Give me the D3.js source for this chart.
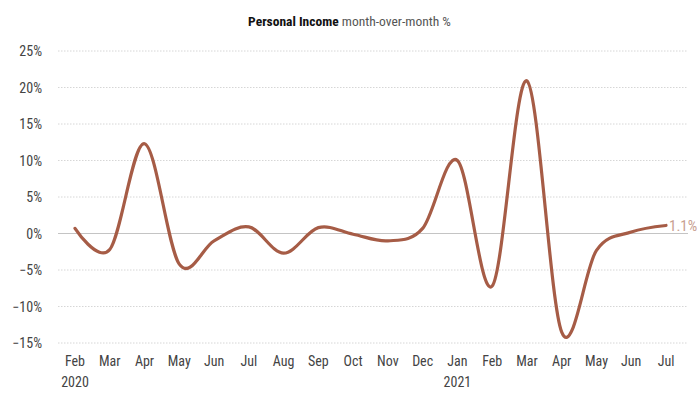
<!DOCTYPE html>
<html>
<head>
<meta charset="utf-8">
<script src="https://cdn.jsdelivr.net/npm/d3@7"></script>
<style>
  body { margin: 0; background: #fff; }
  svg text { font-family: "Roboto Condensed", "Liberation Sans Narrow", "DejaVu Sans Condensed", Roboto, sans-serif; }
</style>
</head>
<body>
<div id="chart"></div>
<script>
const months = ["Feb","Mar","Apr","May","Jun","Jul","Aug","Sep","Oct","Nov","Dec","Jan","Feb","Mar","Apr","May","Jun","Jul"];
const years = [{i:0,label:"2020"},{i:11,label:"2021"}];
const values = [0.7,-2.2,12.3,-4.2,-1.0,0.9,-2.7,0.8,-0.1,-1.0,0.7,10.0,-7.2,20.9,-13.5,-2.3,0.2,1.1];
const yTicks = [-15,-10,-5,0,5,10,15,20,25];

const W = 699, H = 399;
const lineColor = "#a65c46";

const svg = d3.select("#chart").append("svg")
  .attr("width",W).attr("height",H);

const x = d3.scaleLinear().domain([0,months.length-1]).range([75,666]);
const y = d3.scaleLinear().domain([-15,25]).range([343,51]);

// title
const title = svg.append("text")
  .attr("x",W/2).attr("y",26)
  .attr("text-anchor","middle")
  .attr("font-size",13.5);
title.append("tspan").attr("font-weight","bold").attr("fill","#111").text("Personal Income");
title.append("tspan").attr("fill","#555").text(" month-over-month %");

// grid
svg.append("g").selectAll("line")
  .data(yTicks)
  .join("line")
  .attr("x1",58).attr("x2",688)
  .attr("y1",d=>y(d)).attr("y2",d=>y(d))
  .attr("stroke",d=>d===0 ? "#c4c4c4" : "#d6d6d6")
  .attr("stroke-width",1)
  .attr("stroke-dasharray",d=>d===0 ? null : "1.5,1.5");

svg.append("g").selectAll("text")
  .data(yTicks)
  .join("text")
  .attr("x",42).attr("y",d=>y(d)+5)
  .attr("text-anchor","end")
  .attr("font-size",14)
  .attr("fill","#444")
  .text(d=>(d<0 ? "\u2212" + Math.abs(d) : d) + "%");

// x labels
svg.append("g").selectAll("text")
  .data(months)
  .join("text")
  .attr("x",(d,i)=>x(i)).attr("y",366)
  .attr("text-anchor","middle")
  .attr("font-size",14)
  .attr("fill","#444")
  .text(d=>d);

svg.append("g").selectAll("text")
  .data(years)
  .join("text")
  .attr("x",d=>x(d.i)).attr("y",387)
  .attr("text-anchor","middle")
  .attr("font-size",14)
  .attr("fill","#444")
  .text(d=>d.label);

// line
const line = d3.line()
  .x((d,i)=>x(i))
  .y(d=>y(d))
  .curve(d3.curveCardinal.tension(0));

svg.append("path")
  .datum(values)
  .attr("fill","none")
  .attr("stroke",lineColor)
  .attr("stroke-width",3.2)
  .attr("stroke-linecap","round")
  .attr("d",line);

// end label
const last = values.length-1;
svg.append("text")
  .attr("x",x(last)+3).attr("y",y(values[last])+6)
  .attr("font-size",15)
  .attr("fill","#c8a090")
  .text(values[last].toFixed(1) + "%");
</script>
</body>
</html>
